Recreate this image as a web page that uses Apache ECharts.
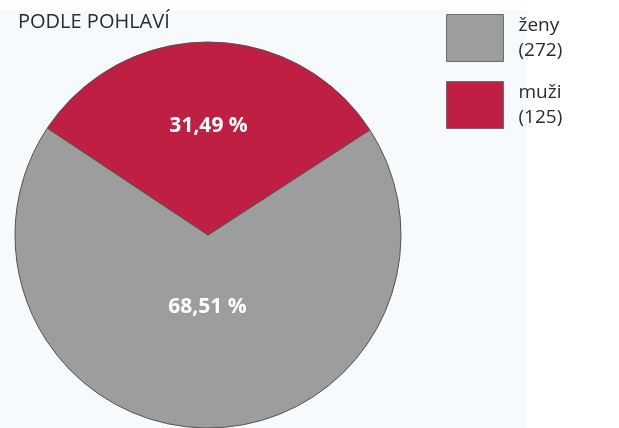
<!DOCTYPE html>
<html>
<head>
<meta charset="utf-8">
<script src="https://cdn.jsdelivr.net/npm/echarts@6/dist/echarts.min.js"></script>
<style>
  html, body { margin: 0; padding: 0; background: #fff; }
  #chart { width: 619px; height: 428px; }
</style>
</head>
<body>
<div id="chart"></div>
<script>
// data
const categories = ["ženy", "muži"];
const counts = [272, 125];
const colors = ["#9c9e9d", "#bf1f42"];

const chart = echarts.init(document.getElementById("chart"));

const pieData = categories.map((name, i) => ({
  name: name,
  value: counts[i],
  itemStyle: { color: colors[i] }
}));

const option = {
  backgroundColor: "#ffffff",
  textStyle: { fontFamily: "Open Sans, Noto Sans, sans-serif" },
  graphic: [
    {
      type: "rect",
      left: 0,
      top: 10,
      z: -10,
      shape: { width: 527, height: 418 },
      style: { fill: "#f7fafd" }
    },
    {
      type: "text",
      left: 18,
      top: 12,
      style: {
        text: "PODLE POHLAVÍ",
        fill: "#2b2b2b",
        font: "20px 'Open Sans', sans-serif"
      }
    }
  ],
  legend: {
    orient: "vertical",
    left: 446,
    top: 13,
    padding: 0,
    itemWidth: 57,
    itemHeight: 47,
    itemGap: 17,
    icon: "rect",
    itemStyle: { borderColor: "#6b6b6b", borderWidth: 1 },
    formatter: function (name) {
      const i = categories.indexOf(name);
      return name + "\n(" + counts[i] + ")";
    },
    textStyle: {
      fontSize: 19,
      lineHeight: 25,
      color: "#2b2b2b",
      padding: [0, 0, 0, 10]
    }
  },
  series: [
    {
      type: "pie",
      center: [208, 235],
      radius: 193,
      startAngle: 33,
      clockwise: true,
      silent: true,
      data: pieData,
      itemStyle: { borderColor: "#5a5050", borderWidth: 1 },
      label: {
        position: "inside",
        color: "#fff",
        fontSize: 21,
        fontWeight: "bold",
        formatter: function (p) {
          return p.percent.toFixed(2).replace(".", ",") + " %";
        }
      },
      labelLayout: function (params) {
        return { dy: params.dataIndex === 0 ? -27 : -9 };
      },
      labelLine: { show: false }
    }
  ]
};

chart.setOption(option);
</script>
</body>
</html>
